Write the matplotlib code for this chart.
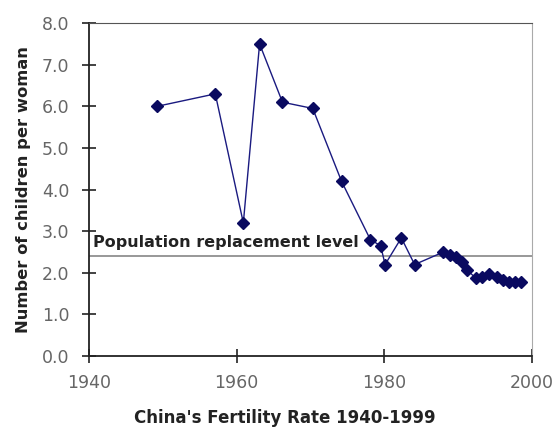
import numpy as np
import matplotlib
matplotlib.use("Agg")
import matplotlib.pyplot as plt

# China fertility rate
years = [1949.2, 1957.1, 1960.9, 1963.1, 1966.2, 1970.3, 1974.2,
         1978.1, 1979.5, 1980.1, 1982.3, 1984.1,
         1988.0, 1988.9, 1989.7, 1990.5, 1991.2, 1992.4, 1993.2,
         1994.2, 1995.2, 1996.1, 1996.9, 1997.7, 1998.5]
rate = [6.0, 6.3, 3.2, 7.5, 6.1, 5.95, 4.2,
        2.8, 2.65, 2.2, 2.84, 2.2,
        2.5, 2.43, 2.38, 2.27, 2.07, 1.87, 1.9,
        1.98, 1.91, 1.83, 1.77, 1.77, 1.79]
replacement = 2.4
xticks = [1940, 1960, 1980, 2000]
yticks = np.arange(0, 8.1, 1.0)

plt.rcParams['font.family'] = ['DejaVu Sans']

fig = plt.figure(figsize=(5.6, 4.28), dpi=100)
ax = fig.add_axes([0.159, 0.168, 0.791, 0.778])

ax.axhline(replacement, color='#909090', lw=1.3, zorder=1)
ax.text(1940.6, replacement + 0.14, "Population replacement level",
        fontsize=11.5, fontweight='bold', color='#222222',
        ha='left', va='bottom')

ax.plot(years, rate, color='#1a1a80', lw=1.0, marker='D', markersize=6.3,
        markerfacecolor='#0a0a60', markeredgecolor='#0a0a60', zorder=3)

ax.set_xlim(1940, 2000)
ax.set_ylim(0, 8)
ax.set_xticks(xticks)
ax.set_yticks(yticks)
ax.set_yticklabels(["%.1f" % v for v in yticks])
ax.tick_params(direction='inout', length=10, width=1.2, color='#222222',
               labelcolor='#666666', labelsize=12.5)
ax.tick_params(axis='x', pad=8)
ax.tick_params(axis='y', pad=9)

for s in ['left', 'bottom']:
    ax.spines[s].set_color('#222222')
    ax.spines[s].set_linewidth(1.3)
ax.spines['top'].set_color('#555555')
ax.spines['right'].set_color('#aaaaaa')

ax.set_xlabel("China's Fertility Rate 1940-1999", fontsize=12,
              fontweight='bold', color='#222222', labelpad=12, x=0.442)
ax.set_ylabel("Number of children per woman", fontsize=11.8,
              fontweight='bold', color='#222222', labelpad=8)

fig.savefig("out.png", dpi=100, facecolor='white')
